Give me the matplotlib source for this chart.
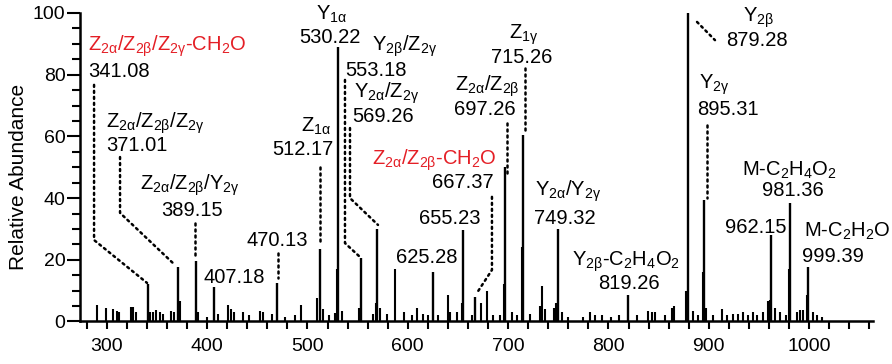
import re
import matplotlib
matplotlib.use("Agg")
import matplotlib.pyplot as plt
from matplotlib.ticker import MultipleLocator

plt.rcParams['font.family'] = ['Liberation Sans', 'DejaVu Sans']
plt.rcParams['mathtext.fontset'] = 'custom'
plt.rcParams['mathtext.rm'] = 'Liberation Sans'
plt.rcParams['mathtext.it'] = 'Liberation Sans:italic'

# assigned fragment ions
ion_mz = [341.08, 371.01, 389.15, 407.18, 470.13, 512.17, 530.22, 553.18, 569.26,
          625.28, 655.23, 667.37, 697.26, 715.26, 749.32, 819.26, 879.28, 895.31,
          962.15, 981.36, 999.39]
ion_int = [12, 17.5, 19.5, 11.3, 12.5, 23.5, 89, 20.5, 30,
           16, 29.5, 8, 50, 60.5, 30, 8.5, 100, 39.5,
           28, 38.5, 17.5]
ion_name = ['Z2α/Z2β/Z2γ-CH2O', 'Z2α/Z2β/Z2γ', 'Z2α/Z2β/Y2γ', '', '', 'Z1α', 'Y1α',
            'Y2β/Z2γ', 'Y2α/Z2γ', '', '', 'Z2α/Z2β-CH2O', 'Z2α/Z2β', 'Z1γ', 'Y2α/Y2γ',
            'Y2β-C2H4O2', 'Y2β', 'Y2γ', '', 'M-C2H4O2', 'M-C2H2O']
ion_red = [341.08, 667.37]

# other peaks in the spectrum
minor_mz = [290, 299, 306, 310, 312, 324, 326, 329, 343, 346, 349, 353, 356, 364, 367,
            373, 391, 400, 411, 421, 424, 427, 436, 442, 453, 456, 465, 477.6, 488, 494,
            510, 515, 521, 527, 529, 534, 551, 565, 568, 572, 579, 587.5, 596, 604, 609,
            615, 620, 630, 640, 642, 649, 654, 664, 673, 679, 685, 692, 696, 704, 709,
            714, 722, 732, 734, 737, 746, 748, 754, 760, 775, 782, 787, 794, 803, 811,
            828, 839, 843, 846, 856, 863, 865, 877, 884, 889, 894, 897, 904, 913, 918,
            924, 929, 934, 939, 944, 948, 954, 959, 961, 966, 971, 977, 980, 988, 991,
            994, 998, 1004, 1008, 1013]
minor_int = [5.2, 4.5, 4, 3.3, 3, 4.6, 4.6, 3, 3.2, 3, 3.7, 3, 2.5, 3.3, 3,
             6.5, 3.2, 1.5, 2.5, 5.5, 4, 3, 3, 2, 3.3, 3, 2.5, 1.5, 2, 5.2,
             7.7, 4, 2, 2.8, 17, 3.5, 4.5, 2.5, 6, 4.5, 2.5, 17, 3, 2, 4.5,
             2.5, 2, 2, 8.5, 3, 3, 6, 2, 6, 10, 2, 2, 12, 3, 2,
             24, 2.5, 5, 11.5, 4, 4.5, 6, 3, 1.5, 1.5, 3, 2, 2, 1.5, 2,
             2, 3.3, 3, 3, 2, 4.5, 5, 10, 3.5, 2, 16, 4.5, 2, 4, 2,
             2.5, 2.5, 3, 2, 3, 2, 3, 6.5, 7, 4.5, 3, 2, 17, 3, 3.7,
             3.7, 8.5, 3, 2, 1.5]

# label anchors: (name x, name y, number x, number y, ha)
label_pos = {
    341.08: (281.3, 89.3, 281.3, 80.9, 'left'),
    371.01: (299.2, 64.4, 299.2, 57.0, 'left'),
    389.15: (383.0, 44.0, 385.0, 36.1, 'center'),
    407.18: (None, None, 426.8, 14.4, 'center'),
    470.13: (None, None, 469.6, 26.4, 'center'),
    512.17: (508.5, 63.3, 495.6, 55.9, 'center'),
    530.22: (524.5, 99.7, 522.5, 92.2, 'center'),
    553.18: (597.2, 89.3, 568.3, 81.5, 'center'),
    569.26: (579.3, 74.0, 575.3, 66.3, 'center'),
    625.28: (None, None, 619.2, 20.9, 'center'),
    655.23: (None, None, 642.1, 33.5, 'center'),
    667.37: (626.1, 52.3, 655.0, 44.9, 'center'),
    697.26: (679.0, 76.3, 677.0, 68.6, 'center'),
    715.26: (715.8, 92.8, 713.8, 85.7, 'center'),
    749.32: (759.7, 42.3, 756.7, 33.5, 'center'),
    819.26: (817.5, 19.3, 820.5, 12.3, 'center'),
    879.28: (950.1, 98.3, 948.1, 91.2, 'center'),
    895.31: (905.2, 76.6, 919.2, 68.6, 'center'),
    962.15: (None, None, 947.1, 30.6, 'center'),
    981.36: (980.0, 49.1, 984.0, 42.3, 'center'),
    999.39: (1037.8, 29.3, 1023.8, 21.2, 'center'),
}

# dotted leader lines from labels to peaks
leaders = [
    [(287.3, 76.7), (287.3, 26.4), (340.1, 12.5)],
    [(313.2, 53.3), (313.2, 35.2), (368.0, 18.3)],
    [(387.9, 31.9), (387.9, 20.9)],
    [(470.6, 22.2), (470.6, 14.1)],
    [(512.5, 50.0), (512.5, 25.8)],
    [(537.4, 78.3), (537.4, 25.4), (552.4, 20.9)],
    [(542.4, 62.7), (542.4, 40.0), (570.3, 31.3)],
    [(683.9, 40.4), (683.9, 16.7), (668.8, 9.2)],
    [(698.9, 64.3), (698.9, 48.1)],
    [(716.8, 82.2), (716.8, 61.1)],
    [(898.2, 63.7), (898.2, 40.0)],
    [(888.3, 97.1), (906.2, 91.2)],
]


def sub(name):
    # digits (with an optional greek index) are set as subscripts
    return re.sub(r'([0-9]+[αβγ]?)', r'$_\\mathregular{\1}$', name)


fig = plt.figure(figsize=(8.92, 3.64), dpi=100)
ax = fig.add_axes([0.0897, 0.1168, 0.889, 0.8475])

ax.vlines(minor_mz, 0, minor_int, color='black', lw=1.5)
ax.vlines(ion_mz, 0, ion_int, color='black', lw=1.7)

for pts in leaders:
    xs, ys = zip(*pts)
    ax.plot(xs, ys, color='black', lw=1.8, linestyle=(0, (0.8, 1.6)),
            dash_capstyle='round')

for mz, name in zip(ion_mz, ion_name):
    nx, ny, tx, ty, ha = label_pos[mz]
    color = '#e41f26' if mz in ion_red else 'black'
    if name:
        ax.text(nx, ny, sub(name), color=color, fontsize=14.5, ha=ha, va='center')
    ax.text(tx, ty, f'{mz:.2f}', color='black', fontsize=14.5, ha=ha, va='center')

ax.set_xlim(273.3, 1063.7)
ax.set_ylim(0, 100)
ax.spines['top'].set_visible(False)
ax.spines['right'].set_visible(False)
ax.spines['left'].set_linewidth(1.8)
ax.spines['bottom'].set_linewidth(1.8)

ax.xaxis.set_major_locator(MultipleLocator(100))
ax.xaxis.set_minor_locator(MultipleLocator(20))
ax.yaxis.set_major_locator(MultipleLocator(20))
ax.yaxis.set_minor_locator(MultipleLocator(5))
ax.tick_params(axis='x', which='both', length=6, width=1.5, labelsize=14, pad=6)
ax.tick_params(axis='y', which='major', length=9.5, width=1.5, labelsize=14, pad=1)
ax.tick_params(axis='y', which='minor', length=6, width=1.5)

ax.set_ylabel('Relative Abundance', fontsize=15)
ax.yaxis.set_label_coords(-0.066, 0.47)

fig.savefig('out.png', dpi=100)
